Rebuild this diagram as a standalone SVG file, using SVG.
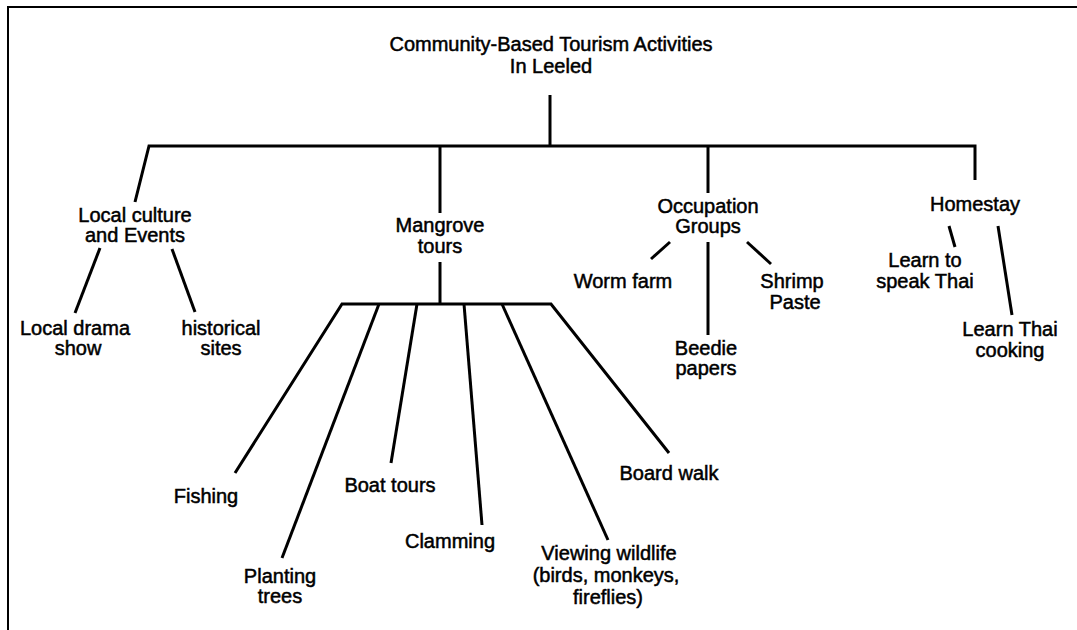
<svg xmlns="http://www.w3.org/2000/svg" width="1077" height="630" viewBox="0 0 1077 630">
<style>
text{font-family:"Liberation Sans",Arial,sans-serif;font-size:20px;fill:#000;text-anchor:middle;stroke:#000;stroke-width:0.5px}
.ln{fill:none;stroke:#000;stroke-width:3;stroke-linejoin:miter;stroke-linecap:butt}
.frame{fill:none;stroke:#000;stroke-width:2}
</style>
<rect width="1077" height="630" fill="#fff"/>
<path class="frame" d="M8 630 V7 H1077"/>
<g id="connectors">
<path class="ln" d="M550 95 V146"/>
<path class="ln" d="M135 202 L149 146 H975 V180"/>
<path class="ln" d="M440 146 V213"/>
<path class="ln" d="M708 146 V193"/>
<path class="ln" d="M100 248 L75 313"/>
<path class="ln" d="M172 249 L195 312"/>
<path class="ln" d="M440 262 V304"/>
<path class="ln" d="M235 473 L342 304 H551 L669 453"/>
<path class="ln" d="M379 304 L282 558"/>
<path class="ln" d="M417 304 L391 463"/>
<path class="ln" d="M464 304 L482 525"/>
<path class="ln" d="M502 304 L608 540"/>
<path class="ln" d="M670 242 L651 259"/>
<path class="ln" d="M708 242 V335"/>
<path class="ln" d="M747 242 L771 264"/>
<path class="ln" d="M949 226 L955 247"/>
<path class="ln" d="M998 226 L1012 315"/>
</g>
<g id="title"><text x="551" y="51">Community-Based Tourism Activities</text><text x="551" y="73">In Leeled</text></g>
<g id="local-culture"><text x="135" y="222">Local culture</text><text x="135" y="242">and Events</text></g>
<g id="local-drama"><text x="75" y="335">Local drama</text><text x="78" y="355">show</text></g>
<g id="historical"><text x="221" y="335">historical</text><text x="221" y="355">sites</text></g>
<g id="mangrove"><text x="440" y="232">Mangrove</text><text x="440" y="253">tours</text></g>
<g id="occupation"><text x="708" y="213">Occupation</text><text x="708" y="233">Groups</text></g>
<g id="homestay"><text x="975" y="211">Homestay</text></g>
<g id="worm-farm"><text x="623" y="288">Worm farm</text></g>
<g id="beedie"><text x="706" y="355">Beedie</text><text x="706" y="375">papers</text></g>
<g id="shrimp"><text x="792" y="288">Shrimp</text><text x="795" y="309">Paste</text></g>
<g id="learn-speak"><text x="925" y="267">Learn to</text><text x="925" y="288">speak Thai</text></g>
<g id="learn-cook"><text x="1010" y="336">Learn Thai</text><text x="1010" y="357">cooking</text></g>
<g id="fishing"><text x="206" y="503">Fishing</text></g>
<g id="planting"><text x="280" y="583">Planting</text><text x="280" y="603">trees</text></g>
<g id="boat"><text x="390" y="492">Boat tours</text></g>
<g id="clamming"><text x="450" y="548">Clamming</text></g>
<g id="wildlife"><text x="609" y="560">Viewing wildlife</text><text x="606" y="582">(birds, monkeys,</text><text x="608" y="604">fireflies)</text></g>
<g id="boardwalk"><text x="669" y="480">Board walk</text></g>
</svg>
